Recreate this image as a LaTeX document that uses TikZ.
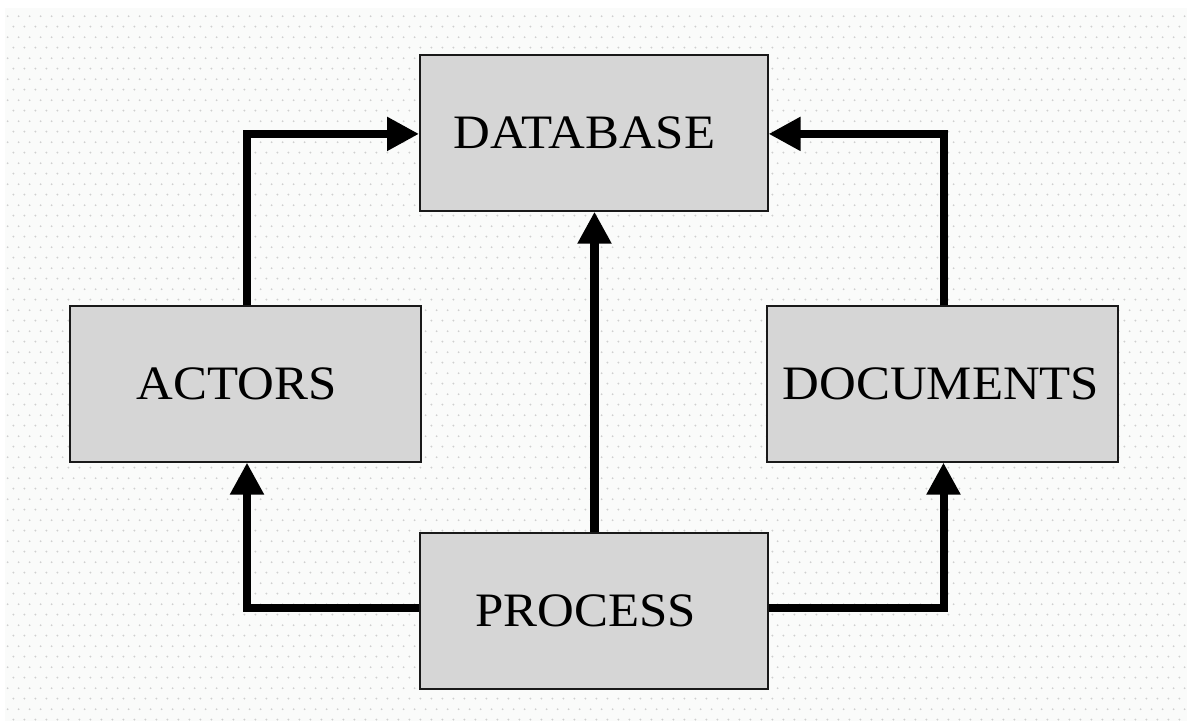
\documentclass[tikz,border=0pt]{standalone}
\usepackage{fontspec}
\setmainfont{Liberation Serif}[FakeStretch=1.06]
\usetikzlibrary{arrows.meta,patterns}

% staggered grid of small dots for the paper background
\pgfdeclarepatternformonly{bgdots}{\pgfpointorigin}{\pgfpoint{10.67pt}{21.33pt}}{\pgfpoint{10.67pt}{21.33pt}}{%
  \pgfpathcircle{\pgfpoint{2.5pt}{2.5pt}}{1.05pt}%
  \pgfpathcircle{\pgfpoint{7.83pt}{13.17pt}}{1.05pt}%
  \pgfusepath{fill}}

\definecolor{paper}{HTML}{FAFBFA}
\definecolor{dotgray}{HTML}{CFCFCF}
\definecolor{boxfill}{HTML}{D6D6D6}

\tikzset{
  box/.style={draw=black!90, line width=2pt, fill=boxfill, inner sep=0pt,
    minimum height=155.5pt, text height=31.7pt, text depth=0pt,
    font=\fontsize{48}{58}\selectfont},
  flow/.style={line width=8pt, line join=miter,
    -{Triangle[length=32pt,width=32pt]}},
}

\begin{document}
\begin{tikzpicture}[x=1pt,y=-1pt]
  \useasboundingbox (0,0) rectangle (1187,721);
  \fill[white] (0,0) rectangle (1187,721);
  \fill[paper] (5,8) rectangle (1187,721);
  \fill[pattern=bgdots, pattern color=dotgray] (5,8) rectangle (1187,721);

  \node[box, minimum width=347.5pt] (database) at (593.8,132.9) {DATABASE\hspace*{19pt}};
  \node[box, minimum width=351pt]   (actors)   at (245,383.8)   {ACTORS\hspace*{17pt}};
  \node[box, minimum width=351.5pt] (documents) at (942.5,383.8) {DOCUMENTS\hspace*{3pt}};
  \node[box, minimum width=347.5pt] (process)  at (593.8,610.8) {PROCESS\hspace*{16pt}};

  \draw[flow] ([xshift=2pt]actors.north) |- ([yshift=-1pt]database.west);
  \draw[flow] ([xshift=1.5pt]documents.north) |- ([yshift=-1pt]database.east);
  \draw[flow, line width=8.5pt] ([xshift=0.7pt]process.north) -- ([xshift=0.7pt]database.south);
  \draw[flow] ([yshift=3pt]process.west) -| ([xshift=2pt]actors.south);
  \draw[flow] ([yshift=3pt]process.east) -| ([xshift=1pt]documents.south);
\end{tikzpicture}
\end{document}
